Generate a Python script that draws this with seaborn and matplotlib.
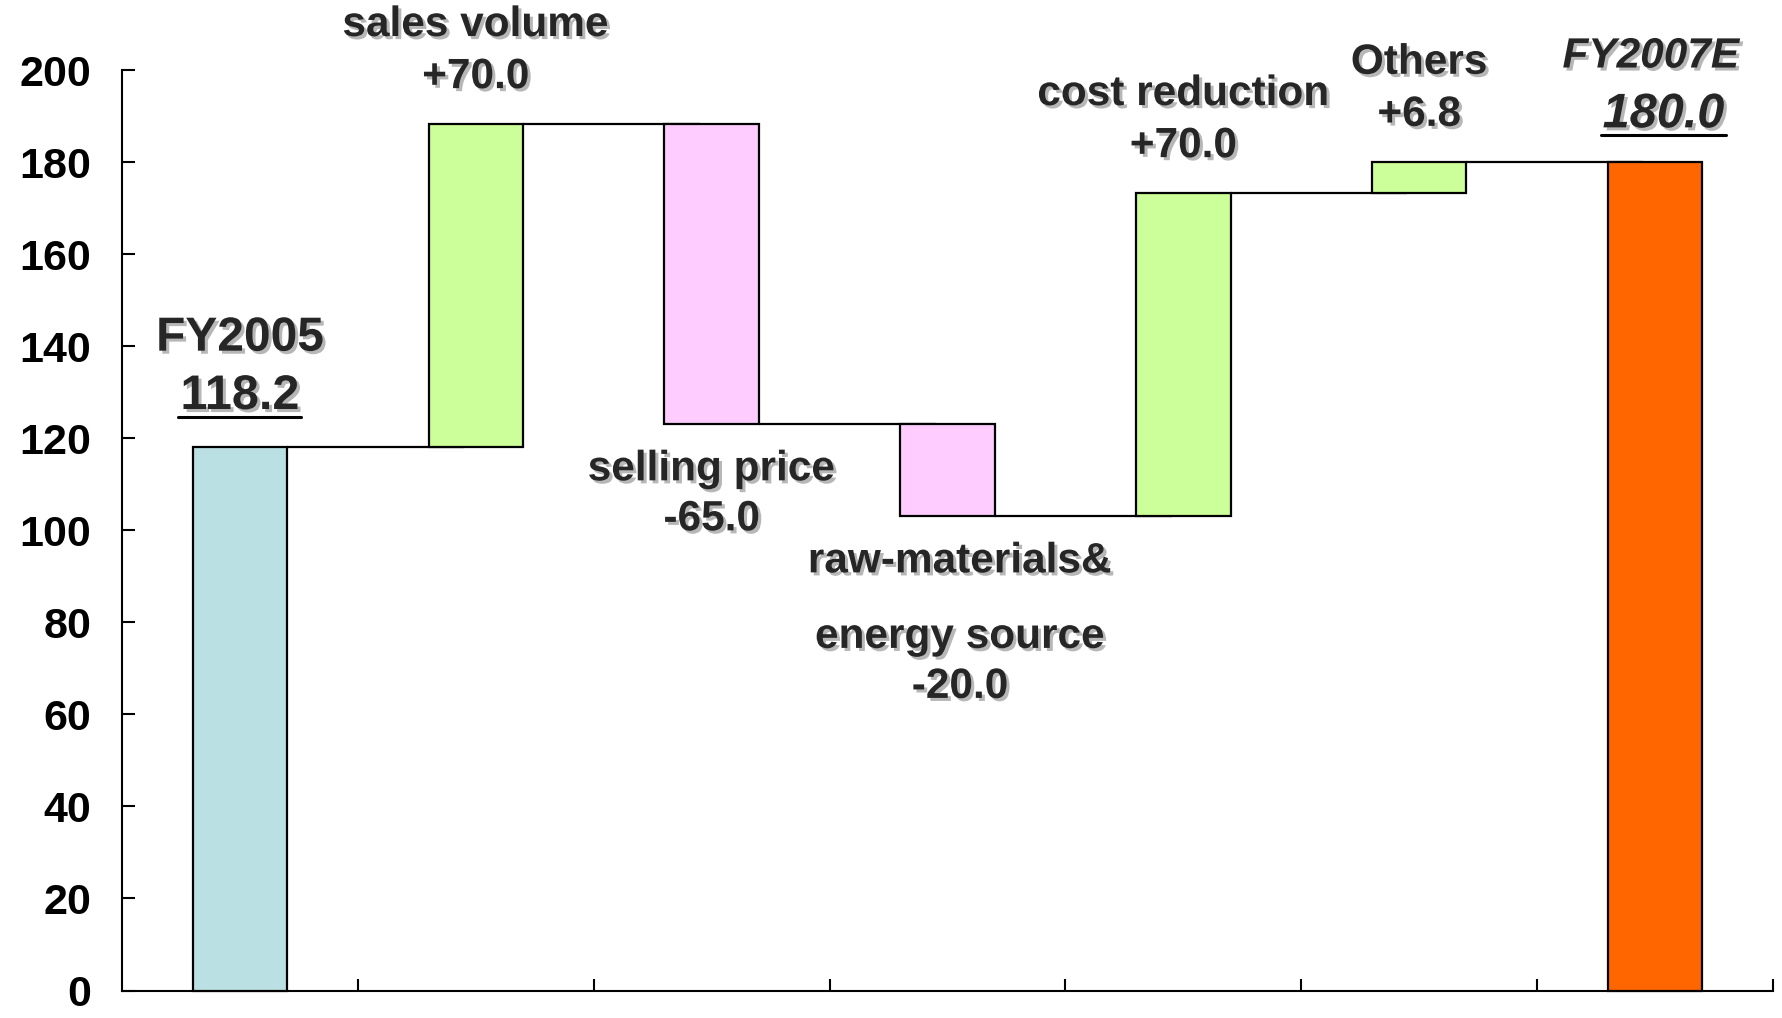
import numpy as np
import pandas as pd
import matplotlib
matplotlib.use("Agg")
import matplotlib.pyplot as plt
import matplotlib.patheffects as pe
from matplotlib.lines import Line2D
import seaborn as sns

# Operating income bridge, FY2005 -> FY2007E (billion yen)
start_label = "FY2005"
start_value = 118.2
change_labels = ["sales volume", "selling price", "raw-materials&\n\nenergy source",
                 "cost reduction", "Others"]
change_values = [70.0, -65.0, -20.0, 70.0, 6.8]
end_label = "FY2007E"
end_value = 180.0

bar_colors = ["#BBE0E3", "#CCFF99", "#FFCCFF", "#FFCCFF", "#CCFF99", "#CCFF99", "#FF6600"]
y_ticks = [0, 20, 40, 60, 80, 100, 120, 140, 160, 180, 200]

# ---- waterfall geometry from the values
levels = np.concatenate([[start_value], start_value + np.cumsum(change_values)])
bottoms = [0.0] + [min(levels[i], levels[i + 1]) for i in range(len(change_values))] + [0.0]
tops = [start_value] + [max(levels[i], levels[i + 1]) for i in range(len(change_values))] + [end_value]
steps = [start_label] + [s.replace("\n\n", " ") for s in change_labels] + [end_label]

df = pd.DataFrame({"step": steps, "top": tops, "bottom": bottoms})

sns.set_theme(style="ticks")
plt.rcParams["font.family"] = ["Liberation Sans", "DejaVu Sans"]
plt.rcParams["font.weight"] = "bold"

fig = plt.figure(figsize=(17.83, 10.18), dpi=100)
ax = fig.add_axes([0.0684, 0.027, 0.926, 0.9042])

sns.barplot(data=df, x="step", y="top", hue="step", order=steps, hue_order=steps,
            palette=bar_colors, width=0.4, legend=False, saturation=1,
            edgecolor="black", linewidth=1.6, ax=ax, zorder=3)

# turn the bars into floating segments
patches = sorted(ax.patches, key=lambda p: p.get_x())
for p, b, t in zip(patches, df["bottom"], df["top"]):
    p.set_y(b)
    p.set_height(t - b)
    p.set_clip_on(False)

# connectors between consecutive bars
for i in range(len(steps) - 1):
    lvl = levels[i] if i < len(levels) else end_value
    ax.plot([i + 0.2, i + 0.95], [lvl, lvl], color="black", lw=1.6, zorder=2,
            solid_capstyle="butt")

shadow = [pe.withSimplePatchShadow(offset=(2.2, -2.2), shadow_rgbFace="0.6", alpha=0.7)]
LINE = 37.5  # line step of the labels, points


def put(text, x, y, dy, dx=0, size=30.5, style="normal"):
    return ax.annotate(text, (x, y), xytext=(dx, dy), textcoords="offset points",
                       ha="center", va="center", fontsize=size, fontweight="bold",
                       fontstyle=style, annotation_clip=False, path_effects=shadow,
                       zorder=5)


# change annotations
for i, (name, val) in enumerate(zip(change_labels, change_values), start=1):
    value_text = f"{val:+.1f}"
    if val >= 0:
        put(value_text, i, tops[i], 34)
        put(name, i, tops[i], 34 + LINE)
    else:
        parts = name.split("\n\n")
        dy = -33
        dx = 9 if len(parts) > 1 else 0
        for k, part in enumerate(parts):
            if k > 0:
                dy -= 1.45 * LINE
            put(part, i, bottoms[i], dy, dx=dx)
        put(value_text, i, bottoms[i], dy - LINE * 0.96, dx=dx)

# totals with underlined values
last = len(steps) - 1
t0 = put(f"{start_value:.1f}", 0, tops[0], 36, size=35)
put(start_label, 0, tops[0], 36 + 42, size=34.5)
t1 = put(f"{end_value:.1f}", last, tops[last], 34, dx=6, size=35, style="italic")
put(end_label, last, tops[last], 34 + 42, dx=-3, size=30.5, style="italic")
underlined = [t0, t1]

ax.set_xlim(-0.5, len(steps) - 0.5)
ax.set_ylim(0, 200)
ax.set_yticks(y_ticks)
ax.set_yticklabels([str(v) for v in y_ticks], fontsize=31, fontweight="bold")
ax.set_xticks(np.arange(0.5, len(steps), 1.0))
ax.set_xticklabels([])
ax.set_xlabel("")
ax.set_ylabel("")
ax.tick_params(axis="both", direction="in", length=9, width=1.5, colors="black")
ax.tick_params(axis="y", pad=22)
sns.despine(ax=ax)
for s in ("left", "bottom"):
    ax.spines[s].set_linewidth(1.5)
    ax.spines[s].set_color("black")

# draw the underline beneath each total value
fig.canvas.draw()
renderer = fig.canvas.get_renderer()
for t in underlined:
    bb = t.get_window_extent(renderer)
    y = bb.y0 + 2
    line = Line2D([bb.x0 - 2, bb.x1 + 2], [y, y], transform=None, color="black",
                  lw=2.2, path_effects=shadow, zorder=6)
    fig.add_artist(line)

fig.savefig("out.png", dpi=100, facecolor="white")
